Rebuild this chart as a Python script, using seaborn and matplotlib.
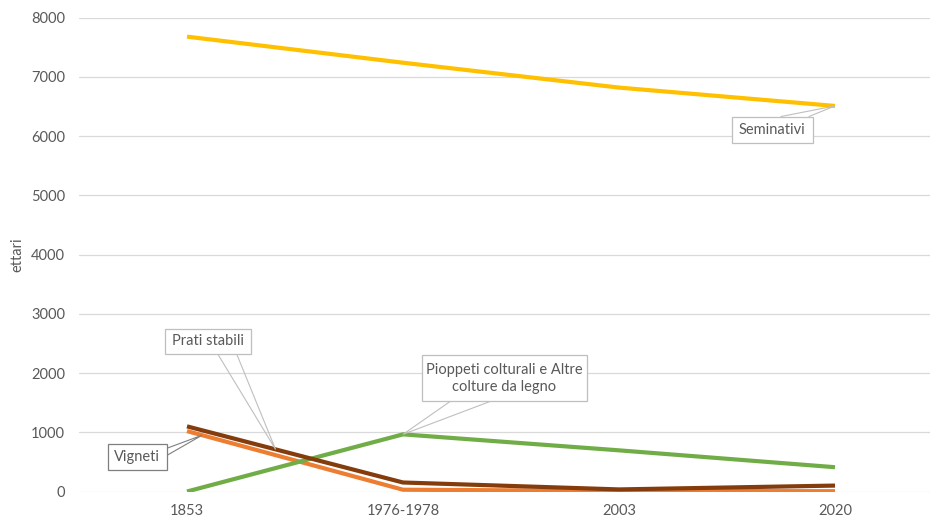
import matplotlib
matplotlib.use("Agg")
import matplotlib.pyplot as plt
from matplotlib.patches import Polygon, Rectangle
import numpy as np
import pandas as pd
import seaborn as sns

# Superfici agricole per tipo di coltura (ettari)
periodi = ["1853", "1976-1978", "2003", "2020"]
seminativi = [7680, 7240, 6820, 6510]
vigneti = [1020, 30, 10, 5]
pioppeti = [0, 965, 695, 410]
prati_stabili = [1100, 152, 35, 100]

serie = {
    "Vigneti": vigneti,
    "Pioppeti colturali e Altre colture da legno": pioppeti,
    "Prati stabili": prati_stabili,
    "Seminativi": seminativi,
}
colori = {
    "Vigneti": "#ED7D31",
    "Pioppeti colturali e Altre colture da legno": "#70AD47",
    "Prati stabili": "#843C0C",
    "Seminativi": "#FFC000",
}

df = pd.DataFrame(
    [(p, i, nome, v) for nome, vals in serie.items() for i, (p, v) in enumerate(zip(periodi, vals))],
    columns=["periodo", "pos", "coltura", "ettari"],
)

sns.set_theme(style="white")
plt.rcParams["font.family"] = ["Lato", "DejaVu Sans"]

W, H = 930, 518
fig = plt.figure(figsize=(W / 100, H / 100), dpi=100)
ax = fig.add_axes([79 / W, 26.5 / H, (943 - 79) / W, (491.5 - 17.7) / H])

sns.lineplot(
    data=df, x="pos", y="ettari", hue="coltura", palette=colori,
    hue_order=list(serie.keys()), linewidth=3, legend=False, ax=ax,
    solid_capstyle="butt",
)

ax.set_xlim(-0.5, 3.5)
ax.set_ylim(0, 8000)
ax.set_yticks(np.arange(0, 8001, 1000))
ax.set_xticks(range(len(periodi)))
ax.set_xticklabels(periodi)
ax.set_xlabel("")
ax.set_ylabel("ettari", color="#595959", fontsize=10.5)
ax.yaxis.set_label_coords(-0.063, 0.5)
ax.tick_params(axis="both", length=0, labelsize=10.5, labelcolor="#595959")
ax.tick_params(axis="y", pad=10)
ax.tick_params(axis="x", pad=9)
ax.grid(axis="y", color="#D9D9D9", linewidth=0.9)
ax.set_axisbelow(True)
for s in ax.spines.values():
    s.set_visible(False)


def callout(testo, box, base, nome, xpos, bordo="#BFBFBF"):
    """Etichetta con riquadro e cuneo che punta alla serie."""
    x0, y0, x1, y1 = box
    tip = (xpos, float(np.interp(xpos, range(len(periodi)), serie[nome])))
    wedge = Polygon([base[0], tip, base[1]], closed=False, fill=False,
                    edgecolor=bordo, linewidth=0.8, zorder=5)
    ax.add_patch(wedge)
    rect = Rectangle((x0, y0), x1 - x0, y1 - y0, facecolor="white",
                     edgecolor=bordo, linewidth=0.9, zorder=6)
    ax.add_patch(rect)
    ax.text((x0 + x1) / 2, (y0 + y1) / 2, testo, ha="center", va="center",
            fontsize=10.5, color="#595959", zorder=7, linespacing=1.3)


callout("Seminativi", (2.521, 5890, 2.896, 6330),
        [(2.748, 6330), (2.878, 6330)], "Seminativi", 3)
callout("Prati stabili", (-0.104, 2330, 0.294, 2740),
        [(0.141, 2330), (0.229, 2330)], "Prati stabili", 0.41)
callout("Vigneti", (-0.366, 360, -0.093, 800),
        [(-0.093, 730), (-0.093, 610)], "Vigneti", 0.07, bordo="#7F7F7F")
callout("Pioppeti colturali e Altre\ncolture da legno", (1.088, 1520, 1.852, 2300),
        [(1.218, 1520), (1.403, 1520)], "Pioppeti colturali e Altre colture da legno", 1)

fig.savefig("out.png", dpi=100)
